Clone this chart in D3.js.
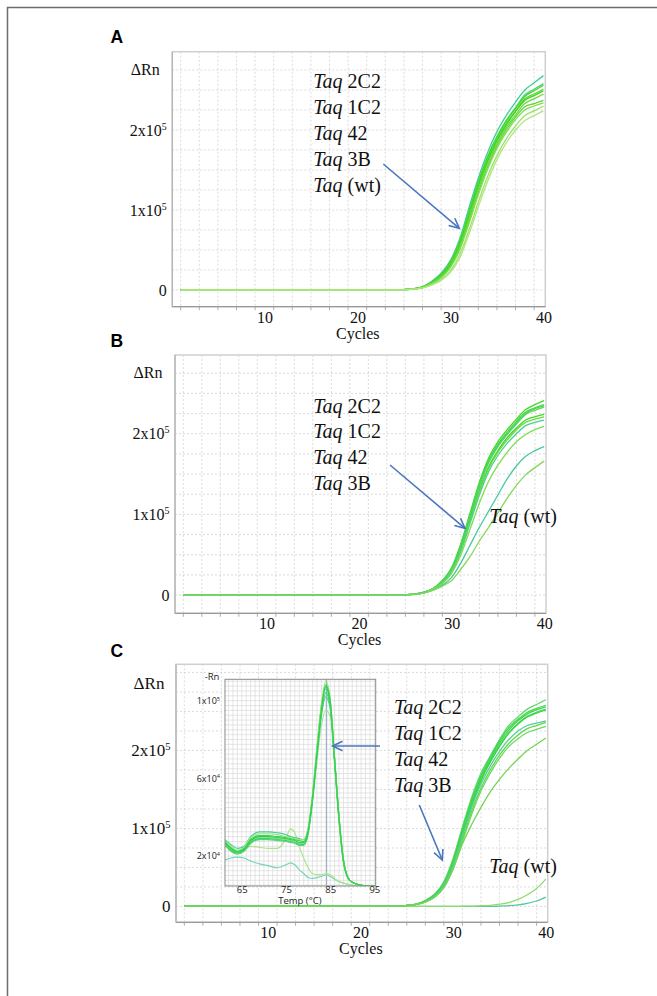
<!DOCTYPE html>
<html><head><meta charset="utf-8">
<script src="https://cdn.jsdelivr.net/npm/d3@7"></script>
<style>body{margin:0;background:#fff}svg{display:block}</style>
</head><body>
<script>
// ---------------- DATA ----------------
// cycles at which values are given (values in thousands of ΔRn)
const cycles = [1,24,25,26,27,28,29,30,31,32,33,34,35,36,37,38,39,40];

const seriesA = [
  [0,0,0.5,1.5,4,11,21,37,64,103,140,172,198,218,235,250,259,268],
  [0,0,0.5,1.5,4,10,20,35,61,99,136,167,192,212,228,244,251,258],
  [0,0,0.5,1.5,4,10,19,34,60,97,134,166,191,211,227,242,249,256],
  [0,0,0.5,1.5,3.5,9,18,33,58,95,132,163,188,208,224,239,245,251],
  [0,0,0.5,1.5,3.5,9,18,32,57,93,130,161,186,206,223,237,243,249],
  [0,0,0.4,1.3,3.2,8.5,17,30,54,89,126,158,183,203,219,233,239,245],
  [0,0,0.4,1.2,3,8,16,29,52,86,122,154,180,200,216,229,233,237],
  [0,0,0.4,1.2,3,8,15,28,50,83,119,151,177,197,213,225,230,234],
  [0,0,0.3,1,2.5,7,13,24,44,75,110,142,168,189,205,218,224,230],
  [0,0,0.3,1,2.5,6,12,22,40,70,104,136,163,184,200,212,218,224]
];
const colorsA = ["#3ccf96","#4fd37c","#44d62a","#52d82c","#3fd424","#66da3a","#5bd834","#7ede4e","#9ae26a","#aee87e"];

const seriesB = [
  [0,0,0.4,1.2,3.5,8,18,34,64,102,140,170,190,205,218,230,236,241],
  [0,0,0.4,1.2,3.5,8,18,33,62,100,138,167,187,202,215,227,232,236],
  [0,0,0.4,1.2,3.3,8,17,32,60,97,135,164,184,199,212,224,229,233],
  [0,0,0.4,1.2,3.4,8,17,32,61,98,136,165,185,200,213,225,231,235],
  [0,0,0.4,1.1,3,7.5,16,30,57,93,130,159,179,195,207,217,221,224],
  [0,0,0.4,1.1,3,7.5,16,30,56,92,128,157,177,192,205,214,218,221],
  [0,0,0.4,1.1,3,7,15,29,54,89,124,153,173,188,200,210,214,217],
  [0,0,0.3,1,2.8,7,14,27,50,82,114,141,161,177,190,199,205,209],
  [0,0,0.3,1,2.5,6,12,22,40,62,84,104,124,144,160,172,179,184],
  [0,0,0.3,1,2.5,6,11,18,32,48,67,84,102,120,136,149,158,166]
];
const colorsB = ["#44d828","#4cd830","#5cda3a","#48d27e","#3fd626","#66dc40","#4fd08c","#7edc52","#45c9a0","#82d858"];

const seriesC = [
  [0,0,0,0,0,0,0,0,0,0,0,0,0.5,1,2,4,7,12],
  [0,0,0,0,0,0,0,0,0.3,0.5,1,1.5,3,5,9,15,23,35],
  [0,0,1.5,3,8,16,32,62,102,140,171,193,214,232,243,253,259,265],
  [0,0,1.5,3,7,15,30,59,99,137,168,191,212,229,240,249,254,258],
  [0,0,1.4,3,7,14,29,57,96,134,165,188,209,226,238,247,252,256],
  [0,0,1.3,2.8,6.5,14,28,55,93,131,162,186,206,223,235,244,249,253],
  [0,0,1.3,2.8,6.5,13,27,54,92,130,161,185,205,222,234,243,248,252],
  [0,0,1.3,2.8,6.5,13,27,53,90,127,157,180,199,214,225,232,235,238],
  [0,0,1.2,2.6,6,12,25,50,86,122,152,175,194,209,220,228,232,236],
  [0,0,1.2,2.6,6,12,24,48,83,118,148,171,190,205,215,223,227,231],
  [0,0,1.2,2.5,5.5,12,25,48,80,105,127,147,163,177,189,200,208,216]
];
const colorsC = ["#52c8a4","#90dc6c","#6ad86a","#3ad26a","#44d82c","#4ccf92","#3ad830","#52cca6","#5cda3c","#6cd866","#74d455"];

const xTicks = [10,20,30,40];
const yTicks = [0,100,200];
const yTickLabels = ["0","1x10^5","2x10^5"];

const enzymeLabelsA = ["2C2","1C2","42","3B","(wt)"];
const enzymeLabelsBC = ["2C2","1C2","42","3B"];
const wtLabel = "(wt)";

// melt curve inset (derivative, thousands) vs temperature
const meltTemps = [61.2,62.5,64,65.5,67,69,71,73,75,76,77,78,79,80,81,82,83,84,85,86,87,88,89,90,92,95.2];
const meltSeries = [
  [18,19,19.5,19,17.5,16,15,14,15.5,16.5,15.5,13,11,9,8.5,9,9.5,10.3,9.5,8,6.8,6,5.5,5,4.7,4.5],
  [27,24,22.5,23.5,25,24.5,24,24,29,34,32,25,19,14,11,10.5,10.5,11,10.5,8.5,7,6.2,5.5,5,4.7,4.5],
  [26.5,23.5,22,23.5,27.5,29.5,29.5,29,28.5,28,27.5,26.5,26.5,32,48,69,87,95,92,67,38,17,9,6.5,5,4.5],
  [25.5,22.5,21,22.5,26.5,28.5,28.5,28,27.5,27,26.5,25.5,25.5,31,48,71,92,102,96,68,38,17,8.5,6.5,5,4.5],
  [26,23,21.5,23,27,29,29,28.5,28,27.5,27,26,26,32,49,72,93,104,97,69,39,17,9,6.5,5,4.5],
  [28.5,26,24,25,30,32.5,32.5,32,31,30,29.5,29,28.5,34,51,75,97,106,98,70,40,18,9,6.5,5,4.5],
  [27.5,24.5,22.5,24,28.5,30.5,30.5,30,29.5,29,28.5,28,27.5,33,50,74,96,107,99,70,40,18,9,6.5,5,4.5],
  [28,25,23,24.5,29.5,31.5,31.5,31,30,29.5,29,28.5,28.5,34,52,76,98,110,101,71,40,18,9,6.5,5,4.5],
  [27,24,22,23.5,28,30,30,29.5,29,28.5,28,27,27,33,50,73,95,108,100,70,40,18,9,6.5,5,4.5]
];
const meltColors = ["#78d4b8","#aee48a","#a6e2a6","#5ccf94","#40d25a","#48cca6","#34d450","#98e276","#2ed24a"];
const meltXTicks = [65,75,85,95];
const meltYTicks = [20,60,100];
const meltYTickLabels = ["2x10^4","6x10^4","1x10^5"];
const meltPeakTemp = [84.2];

// ---------------- DRAW ----------------
const W = 657, H = 996;
const serif = "'Liberation Serif','Times New Roman',serif";
const sans = "'Liberation Sans',Arial,sans-serif";
const inFont = "'Open Sans','DejaVu Sans',sans-serif";
const svg = d3.select("body").append("svg").attr("width", W).attr("height", H);

// outer figure frame
svg.append("path").attr("d", "M7.5,996V7.5H657").attr("fill", "none").attr("stroke", "#6e6e6e").attr("stroke-width", 1.5);

function supText(sel, label) {
  sel.text(null);
  const parts = label.split("^");
  sel.append("tspan").text(parts[0]);
  if (parts[1]) sel.append("tspan").attr("font-size", "62%").attr("dy", "-0.6em").text(parts[1]);
}

function arrow(g, x1, y1, x2, y2) {
  const a = Math.atan2(y2 - y1, x2 - x1), L = 11, s = 0.45;
  g.append("line").attr("x1", x1).attr("y1", y1).attr("x2", x2).attr("y2", y2)
    .attr("stroke", "#4a76c0").attr("stroke-width", 1.6);
  const p = [[x2 - L * Math.cos(a - s), y2 - L * Math.sin(a - s)], [x2, y2], [x2 - L * Math.cos(a + s), y2 - L * Math.sin(a + s)]];
  g.append("path").attr("d", d3.line()(p)).attr("fill", "none").attr("stroke", "#4a76c0").attr("stroke-width", 1.6);
}

function taqLabel(g, x, y, rest, size) {
  const t = g.append("text").attr("x", x).attr("y", y).attr("font-family", serif).attr("font-size", size).attr("fill", "#111");
  t.append("tspan").attr("font-style", "italic").text("Taq");
  t.append("tspan").text(" " + rest);
}

const panels = [
  {letter: "A", lx: 110.5, ly: 42.7, x0: 172.3, x1: 545.3, y0: 51.7, y1: 306.7, yDom: [-20.9, 297.9],
   series: seriesA, colors: colorsA, fs: 16,
   labels: enzymeLabelsA, labX: 313.3, labY: 88.3, labDy: 26, wt: null,
   arrow: [383.3, 164, 459.3, 228.3]},
  {letter: "B", lx: 110.5, ly: 347, x0: 175, x1: 546, y0: 355, y1: 613.3, yDom: [-22.6, 297.6],
   series: seriesB, colors: colorsB, fs: 16,
   labels: enzymeLabelsBC, labX: 313.3, labY: 412.6, labDy: 25.8, wt: [489.3, 522.6],
   arrow: [390, 465, 465, 528.3]},
  {letter: "C", lx: 110.5, ly: 656.7, x0: 176, x1: 547.7, y0: 664.3, y1: 922.3, yDom: [-20.3, 310.5],
   series: seriesC, colors: colorsC, fs: 17,
   labels: enzymeLabelsBC, labX: 394, labY: 714, labDy: 25.9, wt: [489.3, 873.3],
   arrow: [419.3, 805, 442.3, 860], inset: true}
];

panels.forEach((p, pi) => {
  const g = svg.append("g");
  const x = d3.scaleLinear().domain([0.1, 40.2]).range([p.x0, p.x1]);
  const y = d3.scaleLinear().domain(p.yDom).range([p.y1, p.y0]);

  // panel letter
  g.append("text").attr("x", p.lx).attr("y", p.ly).attr("font-family", sans).attr("font-weight", "bold")
    .attr("font-size", 17.5).attr("fill", "#000").text(p.letter);

  // grid
  const gx = d3.range(1, 40, 2), gy = d3.range(0, p.yDom[1], 25);
  g.selectAll(".gx").data(gx).join("line").attr("x1", d => x(d)).attr("x2", d => x(d))
    .attr("y1", p.y0).attr("y2", p.y1).attr("stroke", "#d2d2d2").attr("stroke-width", 0.8).attr("stroke-dasharray", "2,2");
  g.selectAll(".gy").data(gy).join("line").attr("y1", d => y(d)).attr("y2", d => y(d))
    .attr("x1", p.x0).attr("x2", p.x1).attr("stroke", "#d2d2d2").attr("stroke-width", 0.8).attr("stroke-dasharray", "2,2");

  // frame
  g.append("rect").attr("x", p.x0).attr("y", p.y0).attr("width", p.x1 - p.x0).attr("height", p.y1 - p.y0)
    .attr("fill", "none").attr("stroke", "#cfcfcf").attr("stroke-width", 1.5);
  g.append("line").attr("x1", p.x0).attr("x2", p.x1).attr("y1", p.y1).attr("y2", p.y1).attr("stroke", "#9a9a9a").attr("stroke-width", 1.3);
  g.append("line").attr("x1", p.x0).attr("x2", p.x0).attr("y1", p.y0).attr("y2", p.y1).attr("stroke", "#b5b5b5").attr("stroke-width", 1.3);
  g.selectAll(".mt").data(gx).join("line").attr("x1", d => x(d)).attr("x2", d => x(d))
    .attr("y1", p.y1).attr("y2", p.y1 + 3.5).attr("stroke", "#9a9a9a").attr("stroke-width", 0.8);

  // curves
  const clipId = "clip" + pi;
  g.append("clipPath").attr("id", clipId).append("rect").attr("x", p.x0).attr("y", p.y0)
    .attr("width", p.x1 - p.x0).attr("height", p.y1 - p.y0);
  const line = d3.line().x((d, i) => x(cycles[i])).y(d => y(d)).curve(d3.curveMonotoneX);
  g.append("g").attr("clip-path", `url(#${clipId})`).selectAll("path").data(p.series).join("path")
    .attr("d", d => line(d)).attr("fill", "none").attr("stroke", (d, i) => p.colors[i]).attr("stroke-width", 1.3);

  // axes
  const ya = g.append("g").attr("transform", `translate(${p.x0},0)`)
    .call(d3.axisLeft(y).tickValues(yTicks).tickSize(0).tickPadding(5.5));
  ya.select(".domain").remove();
  ya.selectAll("text").attr("font-family", serif).attr("font-size", p.fs).attr("fill", "#111")
    .each(function (d, i) { supText(d3.select(this), yTickLabels[i]); });
  const xa = g.append("g").attr("transform", `translate(0,${p.y1})`)
    .call(d3.axisBottom(x).tickValues(xTicks).tickSize(0).tickPadding(4.5));
  xa.select(".domain").remove();
  xa.selectAll("text").attr("font-family", serif).attr("font-size", 16).attr("fill", "#111");

  g.append("text").attr("x", (p.x0 + p.x1) / 2 - 1).attr("y", p.y1 + 32).attr("text-anchor", "middle")
    .attr("font-family", serif).attr("font-size", 16).attr("fill", "#111").text("Cycles");
  g.append("text").attr("x", p.x0 - 27).attr("y", y(p.yDom[1]) + (pi === 2 ? 24.5 : 22.8)).attr("text-anchor", "middle")
    .attr("font-family", serif).attr("font-size", p.fs).attr("fill", "#111").text("\u0394Rn");

  // inset (melt curve) in panel C
  if (p.inset) {
    const bx0 = 225, bx1 = 375.7, by0 = 679.3, by1 = 886;
    const mx = d3.scaleLinear().domain([61.2, 95.3]).range([bx0, bx1]);
    const my = d3.scaleLinear().domain([4.6, 111]).range([by1, by0]);
    const ig = g.append("g");
    ig.append("rect").attr("x", bx0).attr("y", by0).attr("width", bx1 - bx0).attr("height", by1 - by0).attr("fill", "#fff");
    ig.selectAll(".ix").data(d3.range(62, 96, 1)).join("line").attr("x1", d => mx(d)).attr("x2", d => mx(d))
      .attr("y1", by0).attr("y2", by1).attr("stroke", "#dadada").attr("stroke-width", 0.7);
    ig.selectAll(".iy").data(d3.range(5, 111, 2.5)).join("line").attr("y1", d => my(d)).attr("y2", d => my(d))
      .attr("x1", bx0).attr("x2", bx1).attr("stroke", "#dadada").attr("stroke-width", 0.7);
    ig.selectAll(".pk").data(meltPeakTemp).join("line").attr("x1", d => mx(d)).attr("x2", d => mx(d))
      .attr("y1", by0).attr("y2", by1).attr("stroke", "#8ea8c8").attr("stroke-width", 1);
    ig.append("clipPath").attr("id", "clipm").append("rect").attr("x", bx0).attr("y", by0 - 4).attr("width", bx1 - bx0).attr("height", by1 - by0 + 4);
    const ml = d3.line().x((d, i) => mx(meltTemps[i])).y(d => my(d)).curve(d3.curveMonotoneX);
    ig.append("g").attr("clip-path", "url(#clipm)").selectAll("path").data(meltSeries).join("path")
      .attr("d", d => ml(d)).attr("fill", "none").attr("stroke", (d, i) => meltColors[i]).attr("stroke-width", 1.2);
    ig.append("rect").attr("x", bx0).attr("y", by0).attr("width", bx1 - bx0).attr("height", by1 - by0)
      .attr("fill", "none").attr("stroke", "#8a8a8a").attr("stroke-width", 1);
    const ixa = ig.append("g").attr("transform", `translate(0,${by1})`)
      .call(d3.axisBottom(mx).tickValues(meltXTicks).tickSize(0).tickPadding(0));
    ixa.select(".domain").remove();
    ixa.selectAll("text").attr("font-family", inFont).attr("font-size", 9.5).attr("fill", "#222");
    const iya = ig.append("g").attr("transform", `translate(${bx0},0)`)
      .call(d3.axisLeft(my).tickValues(meltYTicks).tickSize(0).tickPadding(5));
    iya.select(".domain").remove();
    iya.selectAll("text").attr("font-family", inFont).attr("font-size", 9).attr("fill", "#222")
      .each(function (d, i) { supText(d3.select(this), meltYTickLabels[i]); });
    ig.append("text").attr("x", (bx0 + bx1) / 2 - 0.5).attr("y", by1 + 18).attr("text-anchor", "middle")
      .attr("font-family", inFont).attr("font-size", 9.5).attr("fill", "#222").text("Temp (\u00B0C)");
    ig.append("text").attr("x", bx0 - 13).attr("y", by0 + 1).attr("text-anchor", "middle")
      .attr("font-family", inFont).attr("font-size", 9.5).attr("fill", "#222").text("-Rn");
    arrow(ig, 380, 746, mx(meltPeakTemp[0]) + 6, 746);
  }

  // enzyme labels & arrow
  p.labels.forEach((l, i) => taqLabel(g, p.labX, p.labY + i * p.labDy, l, 20));
  if (p.wt) taqLabel(g, p.wt[0], p.wt[1], wtLabel, 20);
  arrow(g, ...p.arrow);
});
</script>
</body></html>
